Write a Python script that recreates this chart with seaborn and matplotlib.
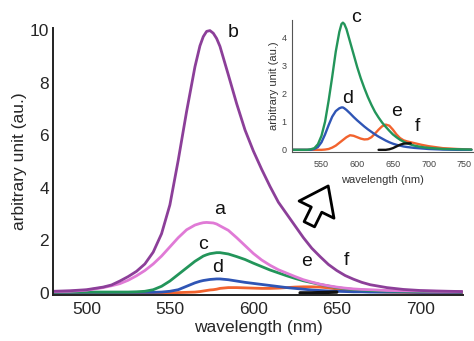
import numpy as np
import pandas as pd
import matplotlib
matplotlib.use("Agg")
import matplotlib.pyplot as plt
import seaborn as sns

# ---- main panel data ----
WL_MAIN = [480, 490, 500, 510, 515, 520, 525, 530, 535, 540, 545, 550, 555, 560,
           565, 568, 570, 572, 574, 576, 578, 580, 585, 590, 595, 600, 605, 610, 615, 620, 625,
           630, 635, 640, 645, 650, 655, 660, 665, 670, 680, 690, 700, 710, 725]

A_MAIN = [0.05, 0.06, 0.10, 0.20, 0.27, 0.35, 0.48, 0.65, 0.85, 1.10, 1.40, 1.75, 2.10, 2.40,
          2.58, 2.64, 2.67, 2.68, 2.67, 2.66, 2.62, 2.55, 2.38, 2.10, 1.80, 1.50, 1.25, 1.05, 0.88, 0.75, 0.62,
          0.50, 0.41, 0.33, 0.27, 0.22, 0.18, 0.15, 0.13, 0.12, 0.09, 0.08, 0.07, 0.06, 0.05]

B_MAIN = [0.06, 0.08, 0.12, 0.22, 0.30, 0.45, 0.62, 0.82, 1.10, 1.55, 2.25, 3.35, 5.05, 6.90,
          8.60, 9.40, 9.75, 9.95, 9.98, 9.88, 9.68, 9.38, 8.30, 7.20, 6.20, 5.40, 4.70, 4.05, 3.45, 3.00, 2.55,
          2.10, 1.70, 1.38, 1.08, 0.85, 0.66, 0.52, 0.40, 0.31, 0.20, 0.13, 0.09, 0.07, 0.05]

C_MAIN = [0.03, 0.03, 0.03, 0.03, 0.03, 0.03, 0.03, 0.04, 0.06, 0.12, 0.25, 0.45, 0.70, 0.95,
          1.20, 1.32, 1.40, 1.45, 1.49, 1.51, 1.53, 1.53, 1.48, 1.38, 1.27, 1.13, 1.00, 0.87, 0.76, 0.65, 0.55,
          0.46, 0.39, 0.32, 0.26, 0.20, 0.16, 0.13, 0.11, 0.09, 0.07, 0.06, 0.05, 0.05, 0.04]

D_MAIN = [0.02, 0.02, 0.02, 0.02, 0.02, 0.02, 0.02, 0.02, 0.02, 0.02, 0.03, 0.06, 0.12, 0.25,
          0.38, 0.44, 0.47, 0.49, 0.51, 0.52, 0.53, 0.53, 0.50, 0.45, 0.40, 0.36, 0.32, 0.28, 0.24, 0.20, 0.17,
          0.14, 0.11, 0.09, 0.07, 0.06, 0.05, 0.04, 0.04, 0.03, 0.03, 0.03, 0.02, 0.02, 0.02]

E_MAIN = [0.0, 0.0, 0.0, 0.0, 0.0, 0.0, 0.0, 0.0, 0.0, 0.0, 0.0, 0.0, 0.01, 0.02,
          0.03, 0.05, 0.07, 0.09, 0.11, 0.12, 0.14, 0.17, 0.20, 0.20, 0.19, 0.18, 0.17, 0.17, 0.18, 0.20, 0.22,
          0.23, 0.23, 0.22, 0.19, 0.15, 0.12, 0.09, 0.07, 0.05, 0.03, 0.02, 0.01, 0.0, 0.0]

WL_F_MAIN = [628, 635, 640, 645, 650]
F_MAIN = [0.0, 0.0, 0.01, 0.02, 0.03]

# ---- inset data ----
WL_INSET = [510, 530, 535, 540, 545, 550, 555, 560, 565, 570, 575, 578, 580, 582, 585, 590, 595,
            600, 605, 610, 615, 620, 625, 630, 635, 640, 645, 650, 655, 660, 665, 670,
            680, 690, 700, 720, 740, 760]

C_INSET = [0.0, 0.0, 0.02, 0.06, 0.20, 0.50, 1.00, 1.75, 2.60, 3.50, 4.20, 4.48, 4.53, 4.48, 4.30, 3.85, 3.40,
           2.95, 2.55, 2.20, 1.88, 1.60, 1.35, 1.15, 0.97, 0.82, 0.68, 0.55, 0.45, 0.36, 0.29, 0.23,
           0.15, 0.10, 0.07, 0.03, 0.02, 0.01]

D_INSET = [0.0, 0.0, 0.0, 0.03, 0.10, 0.27, 0.55, 0.88, 1.18, 1.38, 1.48, 1.51, 1.51, 1.48, 1.42, 1.30, 1.17,
           1.05, 0.94, 0.83, 0.73, 0.64, 0.55, 0.47, 0.40, 0.33, 0.27, 0.22, 0.18, 0.15, 0.12, 0.10,
           0.07, 0.05, 0.03, 0.01, 0.0, 0.0]

E_INSET = [0.0, 0.0, 0.0, 0.0, 0.0, 0.0, 0.01, 0.03, 0.08, 0.15, 0.25, 0.31, 0.35, 0.39, 0.45, 0.52, 0.50,
           0.45, 0.40, 0.37, 0.38, 0.45, 0.58, 0.72, 0.84, 0.90, 0.86, 0.72, 0.55, 0.42, 0.34, 0.30,
           0.24, 0.18, 0.13, 0.06, 0.03, 0.01]

WL_F_INSET = [630, 640, 645, 650, 655, 660, 665, 670, 675]
F_INSET = [0.0, 0.0, 0.02, 0.06, 0.12, 0.18, 0.22, 0.23, 0.23]

COLORS = {"a": "#e07ad6", "b": "#8c3f99", "c": "#23955a", "d": "#2f55b5",
          "e": "#f2632e", "f": "#111111"}

sns.set_style("white")
plt.rcParams["font.family"] = ["Liberation Sans", "DejaVu Sans"]

fig = plt.figure(figsize=(4.74, 3.41), dpi=100)

# main panel
ax = fig.add_axes([0.112, 0.135, 0.865, 0.783])
main_series = [("e", E_MAIN), ("d", D_MAIN), ("c", C_MAIN), ("a", A_MAIN), ("b", B_MAIN)]
for name, vals in main_series:
    sns.lineplot(x=WL_MAIN, y=vals, ax=ax, color=COLORS[name], lw=2.0, sort=False)
sns.lineplot(x=WL_F_MAIN, y=F_MAIN, ax=ax, color=COLORS["f"], lw=2.4, sort=False)

ax.set_xlim(480, 725.7)
ax.set_ylim(-0.08, 10.08)
ax.set_xticks([500, 550, 600, 650, 700])
ax.set_yticks([0, 2, 4, 6, 8, 10])
ax.tick_params(axis="both", length=0, labelsize=12.5)
ax.tick_params(axis="x", pad=5)
ax.tick_params(axis="y", pad=3)
ax.set_xlabel("wavelength (nm)", fontsize=12.5, labelpad=2)
ax.set_ylabel("arbitrary unit (au.)", fontsize=12.5, labelpad=2)
for s in ["top", "right"]:
    ax.spines[s].set_visible(False)
for s in ["left", "bottom"]:
    ax.spines[s].set_color("#222222")
    ax.spines[s].set_linewidth(1.4)

main_labels = {"b": (588, 9.9), "a": (580, 3.16), "c": (569.8, 1.83),
               "d": (578.8, 0.95), "e": (632, 1.19), "f": (656, 1.25)}
for name, (x, y) in main_labels.items():
    ax.text(x, y, name, fontsize=14, ha="center", va="center", color="#111111")

# hollow arrow pointing to the inset
ax.annotate("", xy=(0.695, 0.462), xycoords="figure fraction",
            xytext=(0.650, 0.335), textcoords="figure fraction",
            arrowprops=dict(arrowstyle="simple,head_width=1.4,head_length=0.95,tail_width=0.42",
                            mutation_scale=20, fc="white", ec="black", lw=2.0))

# inset panel
axi = fig.add_axes([0.615, 0.554, 0.384, 0.387])
for name, vals in [("e", E_INSET), ("d", D_INSET), ("c", C_INSET)]:
    sns.lineplot(x=WL_INSET, y=vals, ax=axi, color=COLORS[name], lw=1.7, sort=False)
sns.lineplot(x=WL_F_INSET, y=F_INSET, ax=axi, color=COLORS["f"], lw=1.7, sort=False)

axi.set_xlim(508, 763)
axi.set_ylim(-0.08, 4.62)
axi.set_xticks([550, 600, 650, 700, 750])
axi.set_yticks([0, 1, 2, 3, 4])
axi.tick_params(axis="both", direction="out", length=2, width=0.6, labelsize=6.5,
                colors="#444444")
axi.tick_params(axis="x", pad=4)
axi.tick_params(axis="y", pad=1.5)
axi.set_xlabel("wavelength (nm)", fontsize=8, color="#333333", labelpad=4)
axi.set_ylabel("arbitrary unit (au.)", fontsize=8, color="#333333", labelpad=2)
axi.patch.set_alpha(0)
for s in ["top", "right"]:
    axi.spines[s].set_visible(False)
for s in ["left", "bottom"]:
    axi.spines[s].set_color("#555555")
    axi.spines[s].set_linewidth(0.8)

inset_labels = {"c": (599, 4.7), "d": (586, 1.84), "e": (655, 1.37), "f": (684.5, 0.84)}
for name, (x, y) in inset_labels.items():
    axi.text(x, y, name, fontsize=14, ha="center", va="center", color="#111111")

fig.savefig("out.png", dpi=100)
